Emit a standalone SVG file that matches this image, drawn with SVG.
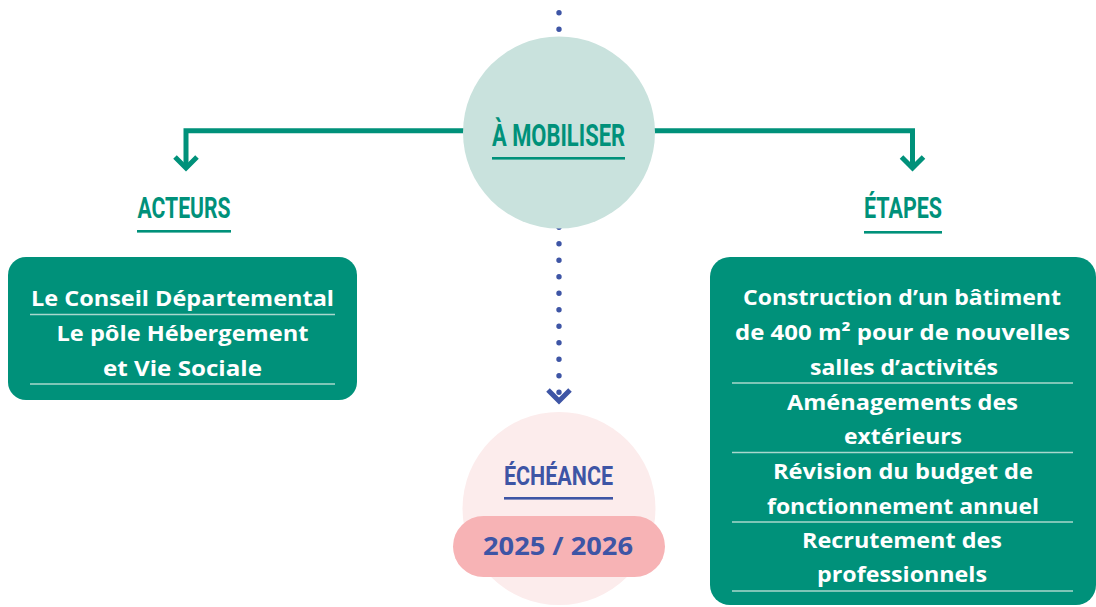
<svg xmlns="http://www.w3.org/2000/svg" width="1096" height="607" viewBox="0 0 1096 607">
<defs>
<style>
.title{font-family:"Liberation Sans Narrow","Roboto","Liberation Sans",sans-serif;font-weight:bold;text-anchor:middle}
.green{fill:#00917a}
.blue{fill:#3e55a5}
.body{font-family:"Open Sans","Lato","Liberation Sans",sans-serif;font-weight:bold;font-size:21.5px;fill:#ffffff;text-anchor:middle}
.rule{stroke:#a9d8cd;stroke-width:1.3}
.conn{fill:none;stroke:#00917a;stroke-width:5}
</style>
</defs>
<rect width="1096" height="607" fill="#ffffff"/>
<g id="connectors">
<path d="M559 12.7 V393" fill="none" stroke="#3e55a5" stroke-width="5.4" stroke-linecap="round" stroke-dasharray="0 16.5"/>
<polyline points="548,390 559,401 570,390" fill="none" stroke="#3e55a5" stroke-width="5"/>
<path class="conn" d="M470 130.8 H186 V168"/>
<polyline class="conn" points="175,157 186,168 197,157"/>
<path class="conn" d="M650 130.8 H912.5 V168"/>
<polyline class="conn" points="901.5,157 912.5,168 923.5,157"/>
</g>
<g id="mobiliser">
<circle cx="559" cy="132.5" r="96" fill="#c9e2dd"/>
<text class="title green" x="558.5" y="146" font-size="32" textLength="133" lengthAdjust="spacingAndGlyphs">À MOBILISER</text>
<rect x="492" y="157" width="133" height="2.6" fill="#00917a"/>
</g>
<g id="acteurs-title">
<text class="title green" x="184" y="218" font-size="29" textLength="93" lengthAdjust="spacingAndGlyphs">ACTEURS</text>
<rect x="137" y="230" width="94" height="2.6" fill="#00917a"/>
</g>
<g id="etapes-title">
<text class="title green" x="903" y="218" font-size="29" textLength="78" lengthAdjust="spacingAndGlyphs">ÉTAPES</text>
<rect x="864" y="231" width="78" height="2.6" fill="#00917a"/>
</g>
<g id="acteurs">
<rect x="8" y="257" width="349" height="143" rx="18" fill="#00917a"/>
<text class="body" x="182.5" y="306" textLength="303" lengthAdjust="spacingAndGlyphs">Le Conseil Départemental</text>
<line class="rule" x1="30" y1="314.5" x2="335" y2="314.5"/>
<text class="body" x="182.5" y="341" textLength="252" lengthAdjust="spacingAndGlyphs">Le pôle Hébergement</text>
<text class="body" x="182.5" y="375.5" textLength="159" lengthAdjust="spacingAndGlyphs">et Vie Sociale</text>
<line class="rule" x1="30" y1="384" x2="335" y2="384"/>
</g>
<g id="etapes">
<rect x="710" y="257" width="386" height="348" rx="20" fill="#00917a"/>
<text class="body" x="902" y="305" textLength="318" lengthAdjust="spacingAndGlyphs">Construction d’un bâtiment</text>
<text class="body" x="902.5" y="340" textLength="335" lengthAdjust="spacingAndGlyphs">de 400 m² pour de nouvelles</text>
<text class="body" x="904" y="375" textLength="188" lengthAdjust="spacingAndGlyphs">salles d’activités</text>
<line class="rule" x1="732" y1="383" x2="1073" y2="383"/>
<text class="body" x="902.5" y="410" textLength="231" lengthAdjust="spacingAndGlyphs">Aménagements des</text>
<text class="body" x="903" y="444" textLength="118" lengthAdjust="spacingAndGlyphs">extérieurs</text>
<line class="rule" x1="732" y1="452.5" x2="1073" y2="452.5"/>
<text class="body" x="903" y="479" textLength="260" lengthAdjust="spacingAndGlyphs">Révision du budget de</text>
<text class="body" x="903" y="514" textLength="272" lengthAdjust="spacingAndGlyphs">fonctionnement annuel</text>
<line class="rule" x1="732" y1="522" x2="1073" y2="522"/>
<text class="body" x="902" y="548" textLength="200" lengthAdjust="spacingAndGlyphs">Recrutement des</text>
<text class="body" x="902" y="582" textLength="170" lengthAdjust="spacingAndGlyphs">professionnels</text>
<line class="rule" x1="732" y1="591" x2="1073" y2="591"/>
</g>
<g id="echeance">
<circle cx="559" cy="508.5" r="96.5" fill="#fcecec"/>
<text class="title blue" x="558.5" y="484.5" font-size="26" textLength="109" lengthAdjust="spacingAndGlyphs">ÉCHÉANCE</text>
<rect x="504" y="497" width="109" height="2.6" fill="#3e55a5"/>
<rect x="453" y="516" width="212" height="61" rx="30.5" fill="#f7b3b5"/>
<text x="558" y="555" font-family="'Open Sans',Lato,'Liberation Sans',sans-serif" font-weight="bold" font-size="25" fill="#3e55a5" text-anchor="middle" textLength="150" lengthAdjust="spacingAndGlyphs">2025 / 2026</text>
</g>
</svg>
